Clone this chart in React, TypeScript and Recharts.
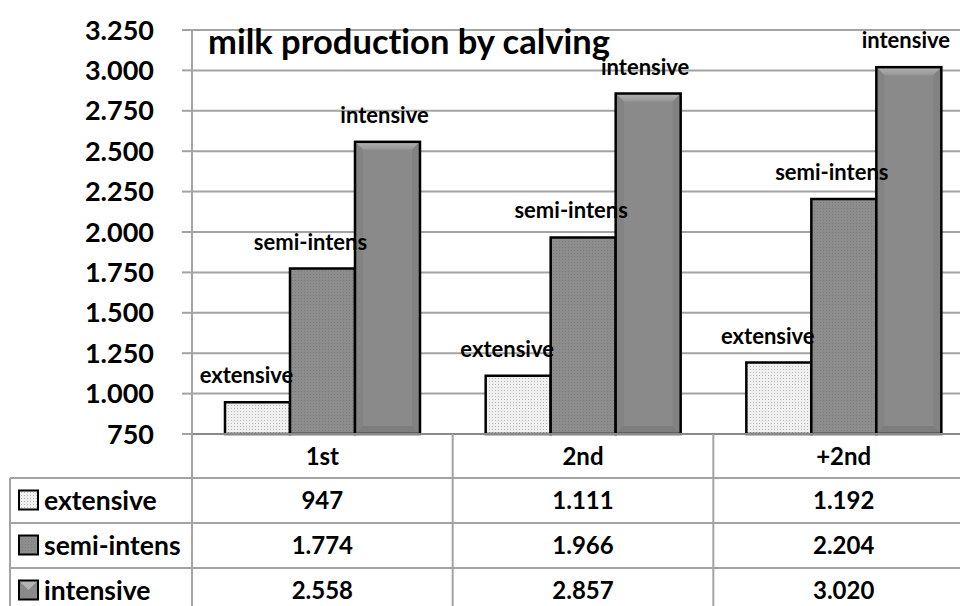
import React from "react";
import { BarChart, Bar, XAxis, YAxis, CartesianGrid, LabelList } from "recharts";

const categories = ["1st", "2nd", "+2nd"];
const extensive = [947, 1111, 1192];
const semiIntens = [1774, 1966, 2204];
const intensive = [2558, 2857, 3020];
const seriesNames = ["extensive", "semi-intens", "intensive"];
const yTicks = [750, 1000, 1250, 1500, 1750, 2000, 2250, 2500, 2750, 3000, 3250];

const data = categories.map((name, i) => ({
  name,
  extensive: extensive[i],
  semi: semiIntens[i],
  intensive: intensive[i],
}));
const rows = [extensive, semiIntens, intensive];

const FONT = "Lato, 'Open Sans', sans-serif";
const GRID = "#a3a3a3";
const NO_LIG = { fontVariantLigatures: "none" } as React.CSSProperties;

// 3250 -> "3.250"
const fmt = (v: number) => String(v).replace(/\B(?=(\d{3})+(?!\d))/g, ".");

const ROW_TOP = 478;
const ROW_H = 45;

const IntensiveShape = (p: any) => {
  const { x, y, width: w, height: h } = p;
  if (!w || !h) return null;
  const b = 8;
  return (
    <g>
      <rect x={x} y={y} width={w} height={h} fill="#8a8a8a" />
      <polygon points={`${x},${y} ${x + w},${y} ${x + w - b},${y + b} ${x + b},${y + b}`} fill="url(#bevelTop)" />
      <polygon points={`${x},${y} ${x + b},${y + b} ${x + b},${y + h - b} ${x},${y + h}`} fill="#838383" />
      <polygon points={`${x + w},${y} ${x + w - b},${y + b} ${x + w - b},${y + h - b} ${x + w},${y + h}`} fill="#828282" />
      <polygon points={`${x},${y + h} ${x + b},${y + h - b} ${x + w - b},${y + h - b} ${x + w},${y + h}`} fill="#7d7d7d" />
      <rect x={x} y={y} width={w} height={h} fill="none" stroke="#000" strokeWidth={2.5} />
    </g>
  );
};

const makeLabel = (name: string, dx: number) => (props: any) => {
  const { x, y, width } = props;
  return (
    <text
      x={x + width / 2 + dx}
      y={y - 19}
      textAnchor="middle"
      fontFamily={FONT}
      fontWeight={700}
      fontSize={22}
      fill="#000"
      style={NO_LIG}
    >
      {name}
    </text>
  );
};

const LegendKey = ({ x, y, idx }: { x: number; y: number; idx: number }) => {
  const s = 19;
  if (idx === 2) {
    return (
      <g>
        <rect x={x} y={y} width={s} height={s} fill="#8a8a8a" />
        <polygon points={`${x},${y} ${x + s},${y} ${x + s / 2},${y + s / 2}`} fill="#b5b5b5" />
        <rect x={x} y={y} width={s} height={s} fill="none" stroke="#000" strokeWidth={2} />
      </g>
    );
  }
  return (
    <rect
      x={x}
      y={y}
      width={s}
      height={s}
      fill={idx === 0 ? "url(#patExt)" : "url(#patSemi)"}
      stroke="#000"
      strokeWidth={2}
    />
  );
};

const TableTick = (props: any) => {
  const { x, y, payload, index } = props;
  const half = payload && payload.offset ? payload.offset : 130;
  const left = x - half;
  const right = x + half;
  const bottom = ROW_TOP + ROW_H * 3;
  return (
    <g>
      <line x1={left} y1={y} x2={left} y2={bottom} stroke={GRID} strokeWidth={2} />
      {index === categories.length - 1 && (
        <line x1={right} y1={y} x2={right} y2={bottom} stroke={GRID} strokeWidth={2} />
      )}
      {index === 0 && (
        <g>
          <line x1={10} y1={ROW_TOP} x2={10} y2={bottom} stroke={GRID} strokeWidth={2} />
          {[0, 1, 2, 3].map((r) => (
            <line
              key={r}
              x1={10}
              y1={ROW_TOP + r * ROW_H}
              x2={left + half * 2 * categories.length}
              y2={ROW_TOP + r * ROW_H}
              stroke={GRID}
              strokeWidth={2}
            />
          ))}
          {seriesNames.map((n, r) => (
            <g key={n}>
              <LegendKey x={19} y={ROW_TOP + r * ROW_H + ROW_H / 2 - 10} idx={r} />
              <text
                x={44}
                y={ROW_TOP + r * ROW_H + ROW_H / 2}
                dy="0.36em"
                fontFamily={FONT}
                fontWeight={700}
                fontSize={26.5}
                fill="#000"
                style={NO_LIG}
              >
                {n}
              </text>
            </g>
          ))}
        </g>
      )}
      <text
        x={x}
        y={(y + ROW_TOP) / 2}
        dy="0.36em"
        textAnchor="middle"
        fontFamily={FONT}
        fontWeight={700}
        fontSize={24}
        fill="#000"
      >
        {payload.value}
      </text>
      {rows.map((vals, r) => (
        <text
          key={r}
          x={x}
          y={ROW_TOP + r * ROW_H + ROW_H / 2}
          dy="0.36em"
          textAnchor="middle"
          fontFamily={FONT}
          fontWeight={700}
          fontSize={24}
          fill="#000"
        >
          {fmt(vals[index])}
        </text>
      ))}
    </g>
  );
};

export default function App() {
  return (
    <div
      style={{
        position: "absolute",
        left: 0,
        top: 0,
        width: 960,
        height: 606,
        overflow: "hidden",
        background: "#fff",
      }}
    >
      <BarChart
        width={976}
        height={606}
        data={data}
        margin={{ top: 30, right: 2, left: 0, bottom: 0 }}
        barGap={0}
        barSize={65}
      >
        <defs>
          <pattern id="patExt" width="3" height="3" patternUnits="userSpaceOnUse">
            <rect width="3" height="3" fill="#f0f0f0" />
            <rect x="0" y="0" width="1" height="1" fill="#b8b8b8" />
          </pattern>
          <pattern id="patSemi" width="3" height="3" patternUnits="userSpaceOnUse">
            <rect width="3" height="3" fill="#8d8d8d" />
            <rect x="1" y="1" width="1" height="1" fill="#7c7c7c" />
          </pattern>
          <linearGradient id="bevelTop" x1="0" y1="0" x2="0" y2="1">
            <stop offset="0%" stopColor="#b4b4b4" />
            <stop offset="100%" stopColor="#959595" />
          </linearGradient>
        </defs>
        <CartesianGrid vertical={false} stroke={GRID} strokeWidth={2} />
        <XAxis
          dataKey="name"
          height={172}
          axisLine={{ stroke: "#8a8a8a", strokeWidth: 2 }}
          tickLine={false}
          tickSize={0}
          tickMargin={0}
          interval={0}
          tick={<TableTick />}
        />
        <YAxis
          width={192}
          domain={[750, 3250]}
          ticks={yTicks}
          interval={0}
          tickFormatter={fmt}
          axisLine={{ stroke: GRID, strokeWidth: 2 }}
          tickLine={{ stroke: GRID, strokeWidth: 2 }}
          tickSize={10}
          tickMargin={28}
          tick={{ fontFamily: FONT, fontWeight: 700, fontSize: 27, fill: "#000" }}
        />
        <Bar dataKey="extensive" fill="url(#patExt)" stroke="#000" strokeWidth={2.5} isAnimationActive={false}>
          <LabelList dataKey="extensive" content={makeLabel(seriesNames[0], -11)} />
        </Bar>
        <Bar dataKey="semi" fill="url(#patSemi)" stroke="#000" strokeWidth={2.5} isAnimationActive={false}>
          <LabelList dataKey="semi" content={makeLabel(seriesNames[1], -12)} />
        </Bar>
        <Bar dataKey="intensive" shape={<IntensiveShape />} isAnimationActive={false}>
          <LabelList dataKey="intensive" content={makeLabel(seriesNames[2], -3)} />
        </Bar>
      </BarChart>
      <svg
        width={960}
        height={606}
        style={{ position: "absolute", left: 0, top: 0, pointerEvents: "none" }}
      >
        <text x={208} y={54} fontFamily={FONT} fontWeight={700} fontSize={34.5} fill="#000" style={NO_LIG}>
          milk production by calving
        </text>
      </svg>
    </div>
  );
}
